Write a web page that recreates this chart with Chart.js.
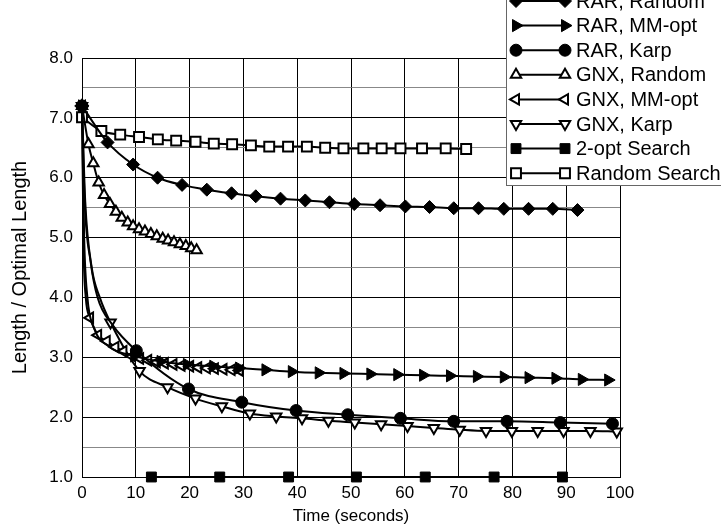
<!DOCTYPE html>
<html>
<head>
<meta charset="utf-8">
<script src="https://cdn.jsdelivr.net/npm/chart.js@4.4.0/dist/chart.umd.min.js"></script>
<style>
  html, body { margin: 0; padding: 0; background: #fff; }
</style>
</head>
<body>
<canvas id="chart" width="721" height="528"></canvas>
<script>
// values: time (s) and length / optimal length
const labels = ['RAR, Random', 'RAR, MM-opt', 'RAR, Karp', 'GNX, Random',
                'GNX, MM-opt', 'GNX, Karp', '2-opt Search', 'Random Search'];

const rarRandomX = [0, 4.75, 9.5, 14.05, 18.6, 23.2, 27.8, 32.3, 36.9, 41.5, 46.0, 50.6, 55.4, 60.1, 64.6, 69.1, 73.7, 78.4, 83.0, 87.5, 92.1];
const rarRandomY = [7.2, 6.59, 6.22, 6.0, 5.88, 5.80, 5.74, 5.69, 5.65, 5.62, 5.59, 5.56, 5.54, 5.52, 5.51, 5.49, 5.49, 5.48, 5.48, 5.48, 5.46];

const rarMmX = [0, 9.7, 14.6, 19.5, 24.4, 29.2, 34.1, 39.0, 44.0, 48.6, 53.6, 58.6, 63.4, 68.4, 73.4, 78.4, 83.0, 88.0, 92.9, 97.8];
const rarMmY = [7.2, 3.02, 2.93, 2.88, 2.85, 2.82, 2.79, 2.76, 2.74, 2.73, 2.72, 2.71, 2.70, 2.69, 2.68, 2.67, 2.66, 2.65, 2.63, 2.62];
// line-only points on the steep early drop (no marker drawn there)
const rarMmCurveX = [0.4, 1.0, 2.2, 5.0];
const rarMmCurveY = [5.0, 4.0, 3.5, 3.18];

const rarKarpX = [0, 10.1, 19.8, 29.7, 39.8, 49.4, 59.2, 69.1, 79.0, 88.9, 98.6];
const rarKarpY = [7.2, 3.11, 2.47, 2.25, 2.11, 2.04, 1.98, 1.93, 1.93, 1.91, 1.89];
const rarKarpCurveX = [0.5, 1.6, 2.9, 5.6];
const rarKarpCurveY = [5.6, 4.6, 4.0, 3.55];

const gnxRandomX = [0, 1.2, 2.1, 3.1, 4.1, 5.2, 6.3, 7.4, 8.5, 9.5, 10.6, 11.7, 12.8, 13.9, 15.0, 16.0, 17.1, 18.2, 19.3, 20.3, 21.3];
const gnxRandomY = [7.2, 6.56, 6.24, 5.92, 5.71, 5.56, 5.43, 5.33, 5.25, 5.19, 5.14, 5.10, 5.06, 5.02, 4.98, 4.95, 4.92, 4.89, 4.86, 4.82, 4.79];

const gnxMmX = [0, 1.5, 3.0, 4.6, 6.2, 7.7, 9.3, 10.8, 12.3, 13.9, 15.4, 17.0, 18.5, 20.1, 21.6, 23.2, 24.7, 26.3, 27.8, 29.3];
const gnxMmY = [7.2, 3.66, 3.37, 3.27, 3.17, 3.10, 3.02, 2.98, 2.95, 2.92, 2.90, 2.88, 2.86, 2.85, 2.83, 2.82, 2.81, 2.80, 2.79, 2.78];
const gnxMmCurveX = [0.3, 0.7];
const gnxMmCurveY = [4.8, 4.0];

const gnxKarpX = [0, 5.3, 10.7, 15.9, 21.1, 26.0, 31.2, 36.1, 40.9, 45.8, 50.7, 55.6, 60.5, 65.4, 70.2, 75.1, 79.9, 84.7, 89.5, 94.5, 99.4];
const gnxKarpY = [7.2, 3.58, 2.77, 2.50, 2.31, 2.18, 2.06, 2.01, 1.98, 1.94, 1.91, 1.88, 1.85, 1.82, 1.79, 1.77, 1.77, 1.77, 1.77, 1.77, 1.76];
const gnxKarpCurveX = [0.6, 1.8, 3.3];
const gnxKarpCurveY = [5.6, 4.5, 4.0];

const twoOptX = [12.9, 25.6, 38.4, 51.0, 63.8, 76.6, 89.3];
const twoOptY = [1.0, 1.0, 1.0, 1.0, 1.0, 1.0, 1.0];

const randomSearchX = [0, 3.6, 7.1, 10.6, 14.1, 17.5, 21.1, 24.5, 27.9, 31.4, 34.8, 38.3, 41.8, 45.2, 48.6, 52.3, 55.7, 59.2, 63.2, 67.6, 71.4];
const randomSearchY = [7.01, 6.78, 6.72, 6.68, 6.64, 6.62, 6.60, 6.57, 6.56, 6.54, 6.52, 6.52, 6.52, 6.50, 6.49, 6.49, 6.49, 6.49, 6.49, 6.49, 6.48];

const xTicks = [0, 10, 20, 30, 40, 50, 60, 70, 80, 90, 100];
const yTicks = [1, 2, 3, 4, 5, 6, 7, 8];

const FONT = '"Liberation Sans", Arial, Helvetica, sans-serif';

// markers + optional line-only knots, merged in x order
const points = (xs, ys, cx = [], cy = []) => {
    const pts = xs.map((x, i) => ({ x: x, y: ys[i], m: true }));
    cx.forEach((x, i) => pts.push({ x: x, y: cy[i], m: false }));
    return pts.sort((a, b) => a.x - b.x);
};

const series = (i, data, style, rot, size, filled) => ({
    label: labels[i],
    data: data,
    borderColor: '#000',
    borderWidth: 2,
    pointStyle: style,
    pointRotation: rot,
    markerSize: size,
    pointRadius: c => (c.raw && c.raw.m ? size : 0),
    pointBackgroundColor: filled ? '#000' : '#fff',
    pointBorderColor: '#000',
    pointBorderWidth: filled ? 1 : 2,
    cubicInterpolationMode: 'monotone',
    clip: false
});

const datasets = [
    series(0, points(rarRandomX, rarRandomY), 'rectRot', 0, 6.5, true),
    series(1, points(rarMmX, rarMmY, rarMmCurveX, rarMmCurveY), 'triangle', 90, 7, true),
    series(2, points(rarKarpX, rarKarpY, rarKarpCurveX, rarKarpCurveY), 'circle', 0, 6, true),
    series(3, points(gnxRandomX, gnxRandomY), 'triangle', 0, 6, false),
    series(4, points(gnxMmX, gnxMmY, gnxMmCurveX, gnxMmCurveY), 'triangle', 270, 6, false),
    series(5, points(gnxKarpX, gnxKarpY, gnxKarpCurveX, gnxKarpCurveY), 'triangle', 180, 6, false),
    series(6, points(twoOptX, twoOptY), 'rect', 0, 7, true),
    series(7, points(randomSearchX, randomSearchY), 'rect', 0, 7, false)
];

// boxed legend sitting over the top right corner
const legendBox = {
    id: 'legendBox',
    afterDraw(chart) {
        const ctx = chart.ctx;
        ctx.save();
        ctx.fillStyle = '#fff';
        ctx.strokeStyle = '#666';
        ctx.lineWidth = 1;
        ctx.fillRect(506.5, -5, 230, 190.5);
        ctx.strokeRect(506.5, -5, 230, 190.5);
        ctx.font = '20px ' + FONT;
        ctx.textBaseline = 'middle';
        chart.data.datasets.forEach((ds, i) => {
            const y = 1 + i * 24.6;
            ctx.strokeStyle = '#000';
            ctx.lineWidth = 2;
            ctx.beginPath();
            ctx.moveTo(516, y);
            ctx.lineTo(565, y);
            ctx.stroke();
            const opts = {
                pointStyle: ds.pointStyle,
                rotation: ds.pointRotation,
                radius: ds.markerSize,
                borderWidth: ds.pointBorderWidth
            };
            ctx.fillStyle = ds.pointBackgroundColor;
            ctx.lineWidth = ds.pointBorderWidth;
            Chart.helpers.drawPoint(ctx, opts, 516, y);
            Chart.helpers.drawPoint(ctx, opts, 565, y);
            ctx.fillStyle = '#000';
            ctx.fillText(ds.label, 576, y + 1);
        });
        ctx.restore();
    }
};

new Chart(document.getElementById('chart').getContext('2d'), {
    type: 'line',
    data: { datasets: datasets },
    options: {
        responsive: false,
        animation: false,
        events: [],
        layout: { padding: { top: 58, right: 101, left: 0, bottom: 0 } },
        plugins: { legend: { display: false }, tooltip: { enabled: false } },
        scales: {
            x: {
                type: 'linear',
                min: 0,
                max: 100,
                ticks: {
                    stepSize: 5,
                    color: '#000',
                    font: { family: FONT, size: 17 },
                    padding: 6,
                    maxRotation: 0,
                    callback: v => (xTicks.includes(v) ? String(v) : '')
                },
                grid: {
                    drawTicks: false,
                    color: c => (c.tick && c.tick.value % 10 === 0 ? '#000' : '#888')
                },
                border: { color: '#000', width: 1 },
                title: {
                    display: true,
                    text: 'Time (seconds)',
                    color: '#000',
                    font: { family: FONT, size: 17 },
                    padding: { top: 0, bottom: 1 }
                },
                afterFit: s => { s.height = 51; }
            },
            y: {
                type: 'linear',
                min: 1,
                max: 8,
                ticks: {
                    stepSize: 0.5,
                    color: '#000',
                    font: { family: FONT, size: 17 },
                    padding: 9,
                    callback: v => (yTicks.includes(v) ? v.toFixed(1) : '')
                },
                grid: {
                    drawTicks: false,
                    color: c => (c.tick && c.tick.value % 1 === 0 ? '#000' : '#888')
                },
                border: { color: '#000', width: 1 },
                title: {
                    display: true,
                    text: 'Length / Optimal Length',
                    color: '#000',
                    font: { family: FONT, size: 20 },
                    padding: { top: 8, bottom: 0 }
                },
                afterFit: s => { s.width = 82; }
            }
        }
    },
    plugins: [legendBox]
});
</script>
</body>
</html>
